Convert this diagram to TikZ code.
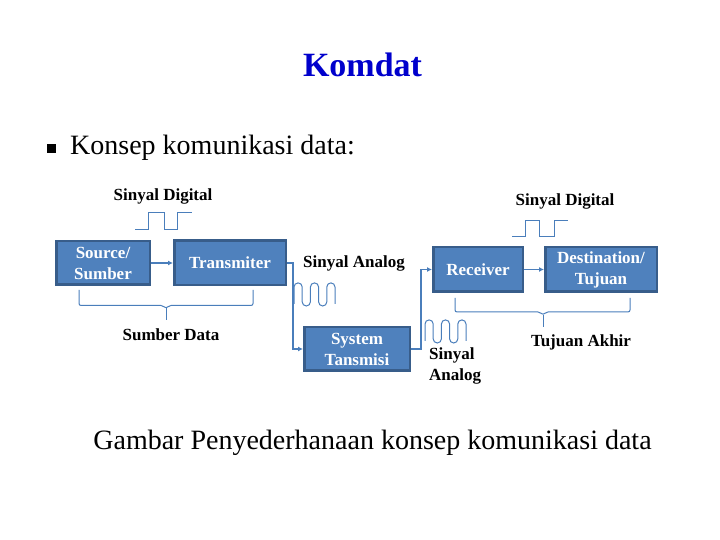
\documentclass[tikz,border=0pt]{standalone}
\usepackage{fontspec}
\setmainfont{Liberation Serif}
\usepackage{tikz}
\usetikzlibrary{arrows.meta}
\definecolor{boxfill}{HTML}{4F81BD}
\definecolor{boxline}{HTML}{385D8A}
\definecolor{wire}{HTML}{4A7EBB}
\definecolor{titleblue}{RGB}{0,0,204}

\begin{document}
\begin{tikzpicture}[
          x=1pt, y=1pt,
          blok/.style={rectangle, draw=boxline, line width=2.5pt,
                       fill=boxfill, text=white, align=center,
                       inner sep=0pt,
                       font=\fontsize{17}{21}\selectfont\bfseries},
          lbl/.style={inner sep=0pt,
                      font=\fontsize{17}{21}\selectfont\bfseries},
          link/.style={wire, line width=1.8pt,
                       -{Latex[length=5pt,width=5pt]}},
          sig/.style={wire, line width=1pt},
          kurung/.style={wire, line width=1pt, rounded corners=2pt}
        ]
          \useasboundingbox (0,0) rectangle (720,540);
          \node[anchor=base, text=titleblue,
                font=\fontsize{34}{40}\selectfont\bfseries] (judul) at (362.5,463) {Komdat};
          \node[fill=black, minimum size=9pt, inner sep=0pt] (bullet) at (51.5,391.5) {};
          \node[anchor=base west, inner sep=0pt,
                font=\fontsize{28}{33}\selectfont] (konsep) at (70,385) {Konsep komunikasi data:};
          \node[blok, minimum width=93.5pt, minimum height=43.5pt] (src) at (103,277) {Source/\\Sumber};
          \node[blok, minimum width=111.5pt, minimum height=44.5pt] (tx) at (230,277) {Transmiter};
          \node[blok, minimum width=105.5pt, minimum height=43.5pt] (sys) at (357,191) {System\\Tansmisi};
          \node[blok, minimum width=89.5pt, minimum height=44.5pt] (rx) at (478,270.5) {Receiver};
          \node[blok, minimum width=111.5pt, minimum height=44.5pt] (dst) at (601,270.5) {Destination/\\Tujuan};
          \node[lbl, anchor=base] (dig1) at (163,339.3) {Sinyal Digital};
          \node[lbl, anchor=base] (dig2) at (565,334) {Sinyal Digital};
          \node[lbl, anchor=base] (ana1) at (354,272.3) {Sinyal Analog};
          \node[lbl, anchor=north west, align=left] (ana2) at (429,192.3) {Sinyal\\Analog};
          \node[lbl, anchor=base] (sumber) at (171,199.3) {Sumber Data};
          \node[lbl, anchor=base] (akhir) at (581,193.3) {Tujuan Akhir};
          \node[anchor=base, inner sep=0pt,
                font=\fontsize{28}{33}\selectfont] (caption) at (372.5,90) {Gambar Penyederhanaan konsep komunikasi data};
          % connectors
          \draw[link] (src.east) -- (tx.west);
          \draw[link] (tx.east) -- ++(6,0) |- (sys.west);
          \draw[link] (sys.east) -- ++(10,0) |- (rx.west);
          \draw[link] (rx.east) -- (dst.west);
          % braces
          \draw[kurung] (79,250) |- (163,234.5) -- (166,231.5) -- (169,234.5) -| (253,250);
          \draw[kurung] (166,231.5) -- (166,220);
          \draw[kurung] (455,242) |- (540,228) -- (543,225) -- (546,228) -| (630,242);
          \draw[kurung] (543,225) -- (543,213);
          % digital signals
          \draw[sig] (135,310) -- (148,310) -- (148,327) -- (164,327) -- (164,310)
                     -- (177,310) -- (177,327) -- (192,327);
          \draw[sig] (512,303) -- (525,303) -- (525,319) -- (539,319) -- (539,303)
                     -- (554,303) -- (554,319) -- (568,319);
          % analog signals
          \draw[sig] (294,236) -- ++(0,17) arc[start angle=180, end angle=0, radius=4.1]
                     -- ++(0,-14.9) arc[start angle=180, end angle=360, radius=4.1]
                     -- ++(0,14.9) arc[start angle=180, end angle=0, radius=4.1]
                     -- ++(0,-14.9) arc[start angle=180, end angle=360, radius=4.1]
                     -- ++(0,14.9) arc[start angle=180, end angle=0, radius=4.1]
                     -- ++(0,-17);
          \draw[sig] (425,199) -- ++(0,17) arc[start angle=180, end angle=0, radius=4.1]
                     -- ++(0,-14.9) arc[start angle=180, end angle=360, radius=4.1]
                     -- ++(0,14.9) arc[start angle=180, end angle=0, radius=4.1]
                     -- ++(0,-14.9) arc[start angle=180, end angle=360, radius=4.1]
                     -- ++(0,14.9) arc[start angle=180, end angle=0, radius=4.1]
                     -- ++(0,-17);
        \end{tikzpicture}
\end{document}
